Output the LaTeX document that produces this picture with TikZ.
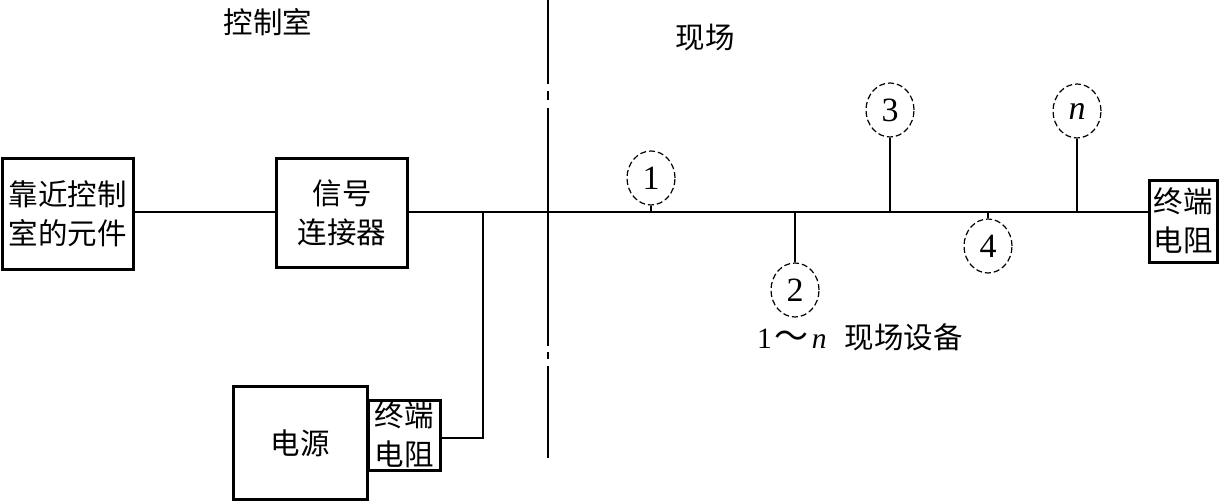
\documentclass[tikz,border=0pt]{standalone}
\usepackage{fontspec}
\usetikzlibrary{shapes.geometric}
\setmainfont{Liberation Serif}
\newfontfamily\cjk{Noto Sans CJK SC}
\begin{document}
\begin{tikzpicture}[x=1pt,y=-1pt,
  box/.style={draw,line width=3pt,inner sep=0pt,align=center,font=\cjk\fontsize{29.5}{39}\selectfont},
  dev/.style={draw,dashed,dash pattern=on 6pt off 3pt,line width=1.2pt,ellipse,minimum width=48pt,minimum height=54pt,inner sep=0pt,font=\fontsize{34}{34}\selectfont},
  lbl/.style={inner sep=0pt,font=\cjk\fontsize{29.5}{32}\selectfont},
  wire/.style={line width=1.3pt},
  bus/.style={line width=2pt}]
\useasboundingbox (0,0) rectangle (1222,503);
% boxes
\node[box,minimum width=131pt,minimum height=111pt] (elem) at (68,214) {靠近控制\\室的元件};
\node[box,minimum width=131pt,minimum height=109pt] (conn) at (342,213) {信号\\连接器};
\node[box,minimum width=134pt,minimum height=113pt] (psu) at (300,443) {电源};
\node[box,minimum width=72pt,minimum height=70pt] (tl) at (404,435) {终端\\电阻};
\node[box,minimum width=68pt,minimum height=82pt] (tr) at (1183,221) {终端\\电阻};
% labels
\node[lbl] (ctrl) at (268,22) {控制室};
\node[lbl] (field) at (705,38) {现场};
\node[lbl,anchor=west] (legend) at (757,337) {{\rmfamily 1}\hspace{3pt}{\cjk\fontsize{34}{34}\selectfont ～}\hspace{3pt}{\rmfamily\itshape n}\hspace{18pt}现场设备};
% devices
\node[dev] (d1) at (651,178) {1};
\node[dev] (d2) at (795,290) {2};
\node[dev] (d3) at (890,110) {3};
\node[dev] (d4) at (988,246) {4};
\node[dev] (dn) at (1077,111) {\textit{n}};
% bus
\coordinate (j0) at (483,212);
\draw[wire] (elem.east|-0,212) -- (conn.west|-0,212);
\draw[bus] (conn.east|-0,212) -- (tr.west|-0,212);
\draw[wire] (j0) -- (483,438) -- (tl.east|-0,438);
\draw[wire] (d1.south) -- (d1.south|-0,212);
\draw[wire] (d2.north) -- (d2.north|-0,212);
\draw[wire] (d3.south) -- (d3.south|-0,212);
\draw[wire] (d4.north) -- (d4.north|-0,212);
\draw[wire] (dn.south) -- (dn.south|-0,212);
% boundary dash-dot line
\coordinate (b0) at (548,0);
\coordinate (b1) at (548,458);
\draw[line width=1.3pt] (b0) -- (548,84) (548,91) -- (548,100) (548,108) -- (548,346) (548,352) -- (548,359) (548,366) -- (b1);
\end{tikzpicture}
\end{document}
